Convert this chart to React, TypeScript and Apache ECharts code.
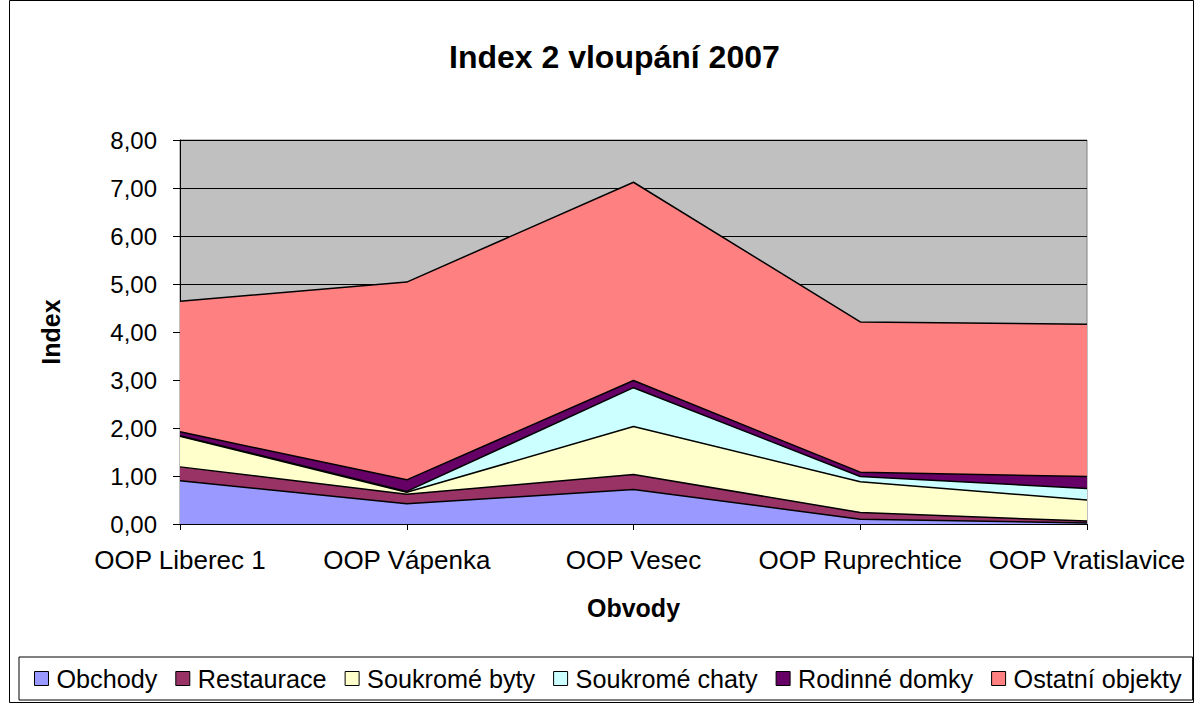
import React, { useEffect, useRef } from "react";
import * as echarts from "echarts";

const categories = ["OOP Liberec 1", "OOP Vápenka", "OOP Vesec", "OOP Ruprechtice", "OOP Vratislavice"];
const seriesNames = ["Obchody", "Restaurace", "Soukromé byty", "Soukromé chaty", "Rodinné domky", "Ostatní objekty"];
const obchody = [0.90, 0.42, 0.72, 0.10, 0.02];
const restaurace = [0.29, 0.20, 0.31, 0.14, 0.04];
const soukromeByty = [0.64, 0.04, 1.00, 0.64, 0.44];
const soukromeChaty = [0.01, 0.02, 0.81, 0.11, 0.24];
const rodinneDomky = [0.08, 0.24, 0.15, 0.09, 0.25];
const ostatniObjekty = [2.72, 4.12, 4.13, 3.13, 3.17];
const colors = ["#9999FF", "#993366", "#FFFFCC", "#CCFFFF", "#660066", "#FF8080"];
const yTicks = { min: 0, max: 8, interval: 1 };

const FONT = "'Liberation Sans', Arial, sans-serif";

export default function App() {
  const ref = useRef<HTMLDivElement>(null);
  useEffect(() => {
    document.body.style.margin = "0";
    const chart = echarts.init(ref.current!, null, { renderer: "svg" });
    const data = [obchody, restaurace, soukromeByty, soukromeChaty, rodinneDomky, ostatniObjekty];
    chart.setOption({
      animation: false,
      backgroundColor: "#fff",
      textStyle: { fontFamily: FONT },
      title: {
        text: "Index 2 vloupání 2007",
        left: 444,
        top: 36,
        textStyle: { fontFamily: FONT, fontSize: 32, fontWeight: "bold", color: "#000" },
      },
      graphic: [
        {
          type: "rect",
          shape: { x: 9.5, y: 0.5, width: 1184, height: 702 },
          style: { fill: "none", stroke: "#000", lineWidth: 1 },
          silent: true,
          z: -1,
        },
      ],
      grid: {
        left: 180,
        right: 113,
        top: 140,
        bottom: 180,
        show: true,
        backgroundColor: "#C0C0C0",
        borderColor: "#808080",
        borderWidth: 1,
      },
      legend: {
        data: seriesNames,
        left: 19,
        bottom: 4,
        padding: [9, 11, 9, 15],
        itemGap: 18,
        itemWidth: 14,
        itemHeight: 14,
        icon: "rect",
        backgroundColor: "#fff",
        borderColor: "#000",
        borderWidth: 1,
        itemStyle: { borderColor: "#000", borderWidth: 1 },
        textStyle: { fontFamily: FONT, fontSize: 25.2, color: "#000", padding: [0, 0, 0, 3] },
      },
      xAxis: {
        type: "category",
        data: categories,
        boundaryGap: false,
        name: "Obvody",
        nameLocation: "middle",
        nameGap: 71,
        nameTextStyle: { fontFamily: FONT, fontSize: 25, fontWeight: "bold", color: "#000", verticalAlign: "top" },
        axisLine: { lineStyle: { color: "#000", width: 1 } },
        axisTick: { show: true, alignWithLabel: true, length: 6, lineStyle: { color: "#000" } },
        axisLabel: { fontFamily: FONT, fontSize: 26, color: "#000", margin: 23, interval: 0 },
      },
      yAxis: {
        type: "value",
        min: yTicks.min,
        max: yTicks.max,
        interval: yTicks.interval,
        name: "Index",
        nameLocation: "middle",
        nameGap: 117,
        nameRotate: 90,
        nameTextStyle: { fontFamily: FONT, fontSize: 25, fontWeight: "bold", color: "#000" },
        axisLine: { show: true, lineStyle: { color: "#000", width: 1 } },
        axisTick: { show: true, length: 7, lineStyle: { color: "#000" } },
        splitLine: { show: true, lineStyle: { color: "#000", width: 1 } },
        axisLabel: {
          fontFamily: FONT,
          fontSize: 24,
          color: "#000",
          margin: 23,
          formatter: (v: number) => v.toFixed(2).replace(".", ","),
        },
      },
      series: seriesNames.map((name, i) => ({
        name,
        type: "line",
        stack: "total",
        data: data[i],
        symbol: "none",
        color: colors[i],
        itemStyle: { color: colors[i] },
        lineStyle: { color: "#000", width: 1.5 },
        areaStyle: { color: colors[i], opacity: 1 },
      })),
    });
    return () => chart.dispose();
  }, []);
  return <div ref={ref} style={{ position: "fixed", left: 0, top: 0, width: 1200, height: 704 }} />;
}
